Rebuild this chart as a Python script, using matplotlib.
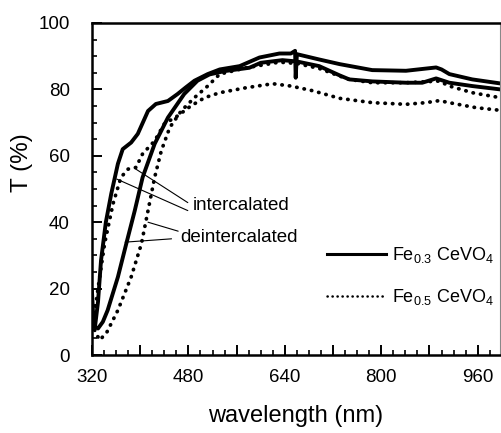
import numpy as np
import matplotlib
matplotlib.use('Agg')
import matplotlib.pyplot as plt
from matplotlib.ticker import MultipleLocator, FuncFormatter

plt.rcParams['font.family'] = ['Liberation Sans', 'DejaVu Sans']
plt.rcParams['mathtext.fontset'] = 'custom'
plt.rcParams['mathtext.rm'] = 'Liberation Sans'
plt.rcParams['mathtext.it'] = 'Liberation Sans:italic'

# Fe0.3CeVO4, intercalated (solid)
nm_s_int = [320, 322, 325, 330, 335, 343, 352, 363, 371, 385, 396, 413, 426, 446,
            462, 475, 490, 512, 532, 565, 598, 631, 650, 657, 658, 660, 697, 731,
            785, 841, 891, 900, 913, 951, 997]
t_s_int = [19, 12, 8.5, 16, 28.5, 40, 48.6, 57.6, 62, 64, 66.6, 73.5, 75.6, 76.5,
           78.6, 80.5, 82.6, 84.6, 86, 87, 89.6, 90.8, 90.8, 91.6, 83.5, 90.6, 89, 87.6,
           85.8, 85.6, 86.6, 86, 84.6, 83, 81.8]

# Fe0.3CeVO4, deintercalated (solid)
nm_s_de = [320, 325, 330, 338, 346, 363, 377, 391, 404, 424, 446, 473, 495, 515,
           540, 581, 600, 636, 660, 697, 731, 747, 785, 841, 868, 891, 913, 951, 997]
t_s_de = [12, 8.5, 8, 10, 13.5, 23.5, 33.6, 43.5, 53.5, 63.6, 71.5, 78.6, 82.6, 84.5,
          85.5, 86.5, 88, 88.8, 88.4, 87, 84.2, 83, 82.4, 82, 82, 83.3, 82, 81, 80]

# Fe0.5CeVO4, intercalated (dotted)
nm_d_int = [320, 324, 330, 341, 355, 368, 380, 393, 404, 424, 440, 462, 484, 507,
            532, 576, 620, 650, 686, 731, 785, 841, 874, 896, 924, 957, 997]
t_d_int = [8, 12, 20, 33.6, 45.6, 53.5, 56, 56.5, 60.6, 64.5, 69.6, 72, 75, 77.5,
           79, 80.5, 81.7, 81, 79.6, 77.3, 76, 75.5, 76, 76.6, 75.6, 74.5, 73.7]

# Fe0.5CeVO4, deintercalated (dotted)
nm_d_de = [320, 325, 333, 345, 363, 385, 402, 413, 424, 435, 449, 468, 490, 512,
           532, 576, 631, 660, 697, 731, 747, 785, 841, 896, 913, 951, 997]
t_d_de = [12, 7, 4.5, 7, 13.5, 23.5, 33.5, 43.5, 53.5, 61.5, 68.5, 73.5, 77.5, 81,
          84.6, 86.5, 88.2, 87.8, 86.3, 84, 83, 82, 82, 82.5, 81, 79, 77.5]

legend_labels = [r'Fe$_{0.3}$ CeVO$_4$', r'Fe$_{0.5}$ CeVO$_4$']

fig = plt.figure(figsize=(5.01, 4.33), dpi=100)
ax = fig.add_axes([0.1836, 0.180, 0.8144, 0.767])

dot = (0, (0.1, 1.9))
ax.plot(nm_s_int, t_s_int, color='black', lw=2.8, label=legend_labels[0])
ax.plot(nm_s_de, t_s_de, color='black', lw=2.8)
ax.plot(nm_d_int, t_d_int, color='black', lw=2.7, ls=dot,
        dash_capstyle='round', label=legend_labels[1])
ax.plot(nm_d_de, t_d_de, color='black', lw=2.7, ls=dot, dash_capstyle='round')

ax.set_xlim(320, 997)
ax.set_ylim(0, 100)

ax.xaxis.set_major_locator(MultipleLocator(80))
ax.xaxis.set_minor_locator(MultipleLocator(20))
ax.xaxis.set_major_formatter(FuncFormatter(
    lambda v, p: '%d' % v if int(round(v - 320)) % 160 == 0 else ''))
ax.yaxis.set_major_locator(MultipleLocator(20))
ax.yaxis.set_minor_locator(MultipleLocator(5))

ax.tick_params(which='major', direction='in', length=7, width=1.4,
               labelsize=13.5, pad=10)
ax.tick_params(which='minor', direction='in', length=3.6, width=1.2)
ax.tick_params(axis='y', which='major', pad=16)
for side in ['left', 'top', 'bottom']:
    ax.spines[side].set_linewidth(1.8)
ax.spines['right'].set_linewidth(0.8)
ax.spines['right'].set_color('#888888')

ax.set_xlabel('wavelength (nm)', fontsize=17, labelpad=14)
ax.set_ylabel('T (%)', fontsize=17.5)
ax.yaxis.set_label_coords(-0.145, 0.578)

# annotation leader lines
line_kw = dict(arrowstyle='-', color='black', lw=0.8, shrinkA=0, shrinkB=0)
ax.annotate('', xy=(391, 56.2), xytext=(479, 45.9), arrowprops=line_kw)
ax.annotate('', xy=(361, 53), xytext=(479, 43.5), arrowprops=line_kw)
ax.annotate('', xy=(413, 40), xytext=(463, 37.3), arrowprops=line_kw)
ax.annotate('', xy=(375, 34), xytext=(452, 35), arrowprops=line_kw)
ax.text(487, 45, 'intercalated', fontsize=13.5, va='center', ha='left')
ax.text(466, 35.4, 'deintercalated', fontsize=13.5, va='center', ha='left')

leg = ax.legend(loc='upper left', bbox_to_anchor=(0.575, 0.33), frameon=False,
                fontsize=13, handlelength=3.3, handletextpad=0.3,
                labelspacing=1.2, borderpad=0, borderaxespad=0)
leg.get_lines()[0].set_linewidth(2.2)
leg.get_lines()[1].set_linewidth(1.8)

fig.savefig('out.png', dpi=100)
